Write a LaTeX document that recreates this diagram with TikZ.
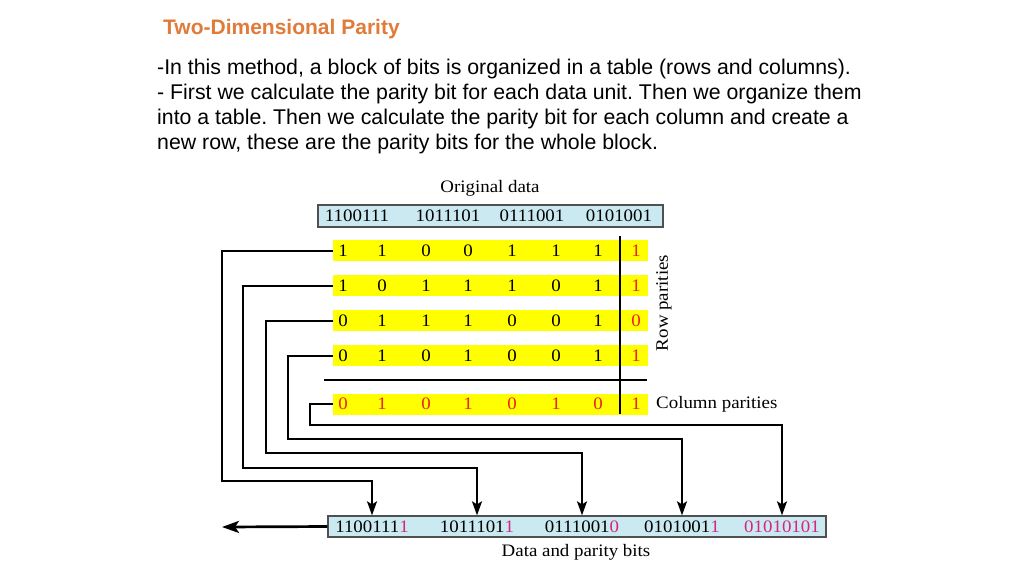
\documentclass[tikz,border=0pt]{standalone}
\usepackage{fontspec}
\setmainfont{Liberation Sans}
\newfontfamily\figfont[FakeStretch=1.08]{Liberation Serif}
\usetikzlibrary{arrows.meta}
\definecolor{ttl}{HTML}{E07B39}
\definecolor{boxblue}{HTML}{CBE9F1}
\definecolor{boxline}{HTML}{505050}
\definecolor{ylw}{HTML}{FFFF00}
\definecolor{pred}{HTML}{E82323}
\definecolor{pmag}{HTML}{D6267F}
\frenchspacing
\tikzset{
  bodytxt/.style={anchor=base west, inner sep=0pt, font=\fontsize{21.3}{25}\selectfont},
  figtxt/.style={inner sep=0pt, font=\figfont\fontsize{17.5}{20}\selectfont},
  bit/.style={figtxt},
  rbit/.style={figtxt, text=pred},
  yrow/.style={fill=ylw, minimum width=315pt, minimum height=21pt, inner sep=0pt},
  bluebox/.style={fill=boxblue, draw=boxline, line width=1.3pt, inner sep=0pt},
  conn/.style={line width=2pt, -{Stealth[length=14pt,width=10pt,inset=3pt]}},
  heavy/.style={line width=2.7pt},
}
\begin{document}
\begin{tikzpicture}[x=1pt,y=-1pt]
\useasboundingbox (0,0) rectangle (1024,576);
\fill[white] (0,0) rectangle (1024,576);

% heading and text
\node[anchor=base west, inner sep=0pt, text=ttl, font=\bfseries\fontsize{21}{25}\selectfont] (title) at (163,34) {Two-Dimensional Parity};
\node[bodytxt] (l1) at (157,74) {-In this method, a block of bits is organized in a table (rows and columns).};
\node[bodytxt] (l2) at (157,99) {- First we calculate the parity bit for each data unit. Then we organize them};
\node[bodytxt] (l3) at (157,124) {into a table. Then we calculate the parity bit for each column and create a};
\node[bodytxt] (l4) at (157,149) {new row, these are the parity bits for the whole block.};

% original data
\node[figtxt] (orig) at (490,188) {Original data};
\node[bluebox, minimum width=345pt, minimum height=22pt] (top) at (490.5,216) {};
\node[figtxt] (o1) at (357,216) {1100111};
\node[figtxt] (o2) at (448,216) {1011101};
\node[figtxt] (o3) at (532,216) {0111001};
\node[figtxt] (o4) at (619,216) {0101001};

% rows
\foreach \r/\yy/\a/\b/\c/\d/\e/\f/\g/\p in {1/250.5/1/1/0/0/1/1/1/1, 2/285.5/1/0/1/1/1/0/1/1, 3/320.5/0/1/1/1/0/0/1/0, 4/355.5/0/1/0/1/0/0/1/1}{
  \node[yrow] (r\r) at (490.5,\yy) {};
  \node[bit] (b\r-1) at (343,\yy) {\a};
  \node[bit] (b\r-2) at (382,\yy) {\b};
  \node[bit] (b\r-3) at (426,\yy) {\c};
  \node[bit] (b\r-4) at (468,\yy) {\d};
  \node[bit] (b\r-5) at (512,\yy) {\e};
  \node[bit] (b\r-6) at (556,\yy) {\f};
  \node[bit] (b\r-7) at (598,\yy) {\g};
  \node[rbit] (b\r-8) at (636,\yy) {\p};
}
\node[yrow] (rc) at (490.5,404) {};
\foreach \i/\xx/\v in {1/343/0, 2/382/1, 3/426/0, 4/468/1, 5/512/0, 6/556/1, 7/598/0, 8/636/1}{
  \node[rbit] (c\i) at (\xx,404) {\v};
}

% separators
\draw[heavy] (620,236) -- (620,414);
\draw[heavy] (324,380) -- (647,380);

\node[figtxt, rotate=90] (rowpar) at (664,303) {Row parities};
\node[figtxt, anchor=west] (colpar) at (656,404) {Column parities};

% output box
\node[bluebox, minimum width=498pt, minimum height=21pt] (out) at (577,526.5) {};
\node[figtxt] (d1) at (372,527) {1100111\textcolor{pmag}{1}};
\node[figtxt] (d2) at (477,527) {1011101\textcolor{pmag}{1}};
\node[figtxt] (d3) at (582,527) {0111001\textcolor{pmag}{0}};
\node[figtxt] (d4) at (682,527) {0101001\textcolor{pmag}{1}};
\node[figtxt, text=pmag] (d5) at (782,527) {01010101};
\node[figtxt] (dp) at (576,552) {Data and parity bits};

% connectors
\draw[conn] (r1.west) -| (222,481) -| (d1.center |- out.north);
\draw[conn] (r2.west) -| (243,468) -| (d2.center |- out.north);
\draw[conn] (r3.west) -| (266,453) -| (d3.center |- out.north);
\draw[conn] (r4.west) -| (288,439) -| (d4.center |- out.north);
\draw[conn] (rc.west) -| (310,425) -| (d5.center |- out.north);

\coordinate (sendend) at (222,527);
\draw[heavy, -{Stealth[length=17pt,width=12pt,inset=4pt]}] (out.west) -- (sendend);
\end{tikzpicture}
\end{document}
